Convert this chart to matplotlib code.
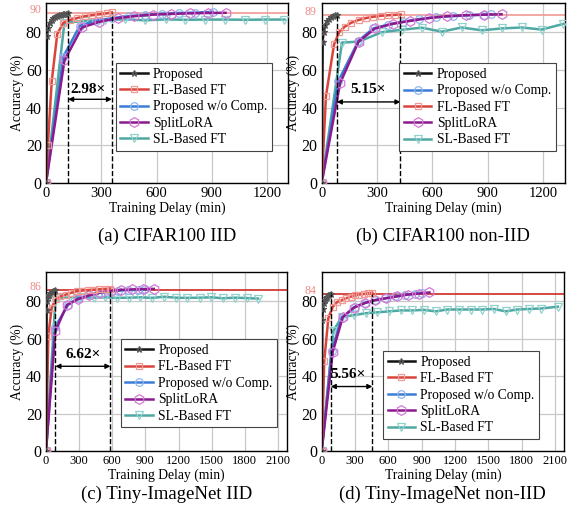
import matplotlib
matplotlib.use("Agg")
import matplotlib.pyplot as plt

plt.rcParams['font.family'] = ['Liberation Serif', 'DejaVu Serif']

# ---------------- data ----------------
# (a) CIFAR100 IID
a_prop_t = [0, 5, 10, 20, 30, 40, 50, 60, 70, 80, 90, 100, 110, 120]
a_prop_y = [0, 78, 82, 85, 86.5, 87.5, 88, 88.5, 89, 89.3, 89.5, 89.7, 89.9, 90.2]
a_fl_t = [0, 10, 31, 61, 94, 130, 170, 210, 250, 290, 330, 358]
a_fl_y = [0, 20, 54, 79, 85, 86.5, 87.5, 88.5, 89, 89.5, 90, 90.5]
a_woc_t = [0, 94, 184, 270, 360, 450, 540, 630, 720, 810, 905]
a_woc_y = [0, 67, 83.5, 86, 87.5, 88.5, 89.3, 89.8, 90.2, 90.4, 90.8]
a_slora_t = [0, 100, 195, 290, 390, 480, 580, 680, 780, 880, 975]
a_slora_y = [0, 65, 82.5, 85.5, 87.5, 88.5, 89.3, 89.7, 90, 90.2, 90.3]
a_sl_t = [0, 100, 210, 320, 430, 540, 650, 755, 865, 970, 1080, 1190, 1295]
a_sl_y = [0, 85, 86, 86.5, 86.8, 86.3, 86.8, 86.6, 86.7, 86.7, 86.6, 86.7, 86.7]

# (b) CIFAR100 non-IID
b_prop_t = [0, 5, 10, 20, 30, 40, 50, 60, 70, 82]
b_prop_y = [0, 75, 80, 84, 86, 87, 88, 88.5, 89, 89.3]
b_fl_t = [0, 23, 67, 96, 126, 160, 200, 240, 280, 320, 360, 395, 428]
b_fl_y = [0, 46, 73.5, 80.3, 83, 85, 86.5, 87.5, 88.2, 88.7, 89, 89.2, 89.4]
b_woc_t = [0, 90, 200, 280, 360, 440, 530, 620, 710, 800, 880, 920]
b_woc_y = [0, 54, 75.5, 82, 84, 85.5, 87, 88, 88.5, 89, 89.3, 89.5]
b_slora_t = [0, 100, 200, 290, 385, 480, 580, 680, 780, 880, 975]
b_slora_y = [0, 53, 75, 82, 84.5, 86, 87.5, 88.5, 89, 89.3, 89.5]
b_sl_t = [0, 110, 202, 325, 435, 542, 651, 759, 868, 976, 1084, 1193, 1310]
b_sl_y = [0, 74.5, 75, 80, 81.3, 82.4, 80.3, 82.5, 81, 82, 82.5, 81.4, 84.4]

# (c) Tiny-ImageNet IID
c_prop_t = [0, 5, 10, 20, 30, 40, 50, 60, 70, 85]
c_prop_y = [0, 75, 80, 82.5, 83.5, 84.3, 84.8, 85.2, 85.5, 86]
c_fl_t = [0, 21, 51, 88, 130, 180, 230, 280, 330, 380, 430, 480, 530, 580]
c_fl_y = [0, 61.5, 76.5, 81, 82.5, 83.5, 84.5, 85.2, 85.6, 85.9, 86.1, 86.3, 86.5, 86.7]
c_woc_t = [0, 81, 200, 290, 380, 470, 560, 650, 740, 830, 900]
c_woc_y = [0, 66, 78, 81.5, 83, 84.3, 85, 85.5, 85.8, 86, 86.2]
c_slora_t = [0, 85, 190, 290, 390, 490, 590, 680, 780, 880, 975]
c_slora_y = [0, 64, 78, 81, 83, 84.5, 85.5, 86, 86.2, 86.4, 86.5]
c_sl_t = [0, 85, 110, 215, 320, 430, 535, 640, 750, 855, 960, 1070, 1175, 1280,
          1390, 1495, 1600, 1710, 1815, 1920]
c_sl_y = [0, 80, 81.5, 82, 82, 81.8, 82, 81.7, 81.8, 82, 81.7, 82.3, 81.8, 81.7,
          81.8, 82, 81.5, 81.8, 81.6, 81.3]

# (d) Tiny-ImageNet non-IID
d_prop_t = [0, 5, 10, 20, 30, 40, 50, 60, 70, 82]
d_prop_y = [0, 70, 76, 79, 80.5, 81.5, 82.3, 83, 83.5, 84]
d_fl_t = [0, 23, 60, 100, 140, 180, 220, 260, 300, 340, 380, 420, 455]
d_fl_y = [0, 48, 71, 77, 79.5, 80.5, 81.5, 82.3, 83, 83.5, 83.8, 84.2, 84.5]
d_woc_t = [0, 90, 180, 300, 390, 480, 570, 660, 750, 840, 905]
d_woc_y = [0, 53.5, 71, 77, 79, 80.5, 81.5, 82.5, 83.3, 84, 84.5]
d_slora_t = [0, 100, 190, 290, 390, 480, 580, 680, 780, 880, 970]
d_slora_y = [0, 53, 71.5, 76.5, 79, 80.5, 81.5, 82.5, 83.5, 84, 84.6]
d_sl_t = [0, 105, 180, 290, 395, 500, 605, 710, 815, 920, 1025, 1130, 1235, 1340,
          1445, 1550, 1655, 1760, 1865, 1970, 2125]
d_sl_y = [0, 64, 71.5, 72.5, 73.5, 74, 74.5, 75, 75, 75.3, 74.5, 75.5, 75.5, 75.5,
          75.5, 75.8, 74.5, 75.5, 75.8, 76, 77]

targets = [90, 89, 86, 84]
speedups = ["2.98×", "5.15×", "6.62×", "5.56×"]
speed_t = [(120, 358), (82, 427), (85, 583), (82, 456)]
titles = ["(a) CIFAR100 IID", "(b) CIFAR100 non-IID",
          "(c) Tiny-ImageNet IID", "(d) Tiny-ImageNet non-IID"]
labels = {"prop": "Proposed", "fl": "FL-Based FT", "woc": "Proposed w/o Comp.",
          "slora": "SplitLoRA", "sl": "SL-Based FT"}

# ---------------- style ----------------
styles = {
    "prop": dict(color="#111111", marker="*", mec="#555555", mfc="none", ms=5),
    "fl": dict(color="#d9453d", marker="s", mec="#f19a95", mfc="none", ms=5),
    "woc": dict(color="#3a7dd6", marker="o", mec="#8fb6ef", mfc="none", ms=5.5),
    "slora": dict(color="#8b1a8e", marker="h", mec="#d47ad6", mfc="none", ms=7),
    "sl": dict(color="#4ea8a3", marker="v", mec="#92d2ce", mfc="none", ms=6),
}

panels = [
    dict(data={"prop": (a_prop_t, a_prop_y), "fl": (a_fl_t, a_fl_y), "woc": (a_woc_t, a_woc_y),
               "slora": (a_slora_t, a_slora_y), "sl": (a_sl_t, a_sl_y)},
         order=["prop", "fl", "woc", "slora", "sl"], xlim=1314, xticks=[0, 300, 600, 900, 1200],
         pos=[0.0803, 0.6447, 0.4223, 0.3495], leg=(0.288, 0.668), txt=(230, 49.7), arr=44.4,
         tcolor="#f09a94", xfs=10.5),
    dict(data={"prop": (b_prop_t, b_prop_y), "fl": (b_fl_t, b_fl_y), "woc": (b_woc_t, b_woc_y),
               "slora": (b_slora_t, b_slora_y), "sl": (b_sl_t, b_sl_y)},
         order=["prop", "woc", "fl", "slora", "sl"], xlim=1319, xticks=[0, 300, 600, 900, 1200],
         pos=[0.5614, 0.6447, 0.4246, 0.3495], leg=(0.319, 0.666), txt=(253, 49.6), arr=43.0,
         tcolor="#f09a94", xfs=10.5),
    dict(data={"prop": (c_prop_t, c_prop_y), "fl": (c_fl_t, c_fl_y), "woc": (c_woc_t, c_woc_y),
               "slora": (c_slora_t, c_slora_y), "sl": (c_sl_t, c_sl_y)},
         order=["prop", "fl", "woc", "slora", "sl"], xlim=2181,
         xticks=[0, 300, 600, 900, 1200, 1500, 1800, 2100],
         pos=[0.0803, 0.1243, 0.4206, 0.3475], leg=(0.31, 0.624), txt=(338, 51.4), arr=45.2,
         tcolor="#cc2a22", xfs=9),
    dict(data={"prop": (d_prop_t, d_prop_y), "fl": (d_fl_t, d_fl_y), "woc": (d_woc_t, d_woc_y),
               "slora": (d_slora_t, d_slora_y), "sl": (d_sl_t, d_sl_y)},
         order=["prop", "fl", "woc", "slora", "sl"], xlim=2181,
         xticks=[0, 300, 600, 900, 1200, 1500, 1800, 2100],
         pos=[0.5614, 0.1243, 0.4229, 0.3475], leg=(0.252, 0.559), txt=(240, 40.8), arr=34.4,
         tcolor="#cc2a22", xfs=9),
]

fig = plt.figure(figsize=(5.73, 5.15), dpi=100)

for i, p in enumerate(panels):
    ax = fig.add_axes(p["pos"])
    ax.set_xlim(0, p["xlim"])
    ax.set_ylim(0, 95.5)
    ax.set_xticks(p["xticks"])
    ax.set_yticks([0, 20, 40, 60, 80])
    ax.grid(True, color="#c8c8c8", lw=0.9)
    ax.set_axisbelow(True)
    ax.tick_params(axis="y", labelsize=11.5, length=0, pad=3)
    ax.tick_params(axis="x", labelsize=p["xfs"], length=0, pad=3)
    for s in ax.spines.values():
        s.set_linewidth(1.0)

    tgt = targets[i]
    ax.axhline(tgt, color=p["tcolor"], lw=1.2, zorder=1)
    ax.text(-0.02, tgt + 1.6, str(tgt), color="#f08a84", fontsize=8.5,
            transform=ax.get_yaxis_transform(), ha="right", va="center")

    handles = {}
    for key in ["sl", "woc", "slora", "fl", "prop"]:
        t, y = p["data"][key]
        st = styles[key]
        ln, = ax.plot(t, y, color=st["color"], lw=1.8, marker=st["marker"], ms=st["ms"],
                      mec=st["mec"], mfc=st["mfc"], mew=0.9, label=labels[key], zorder=3)
        handles[key] = ln

    t1, t2 = speed_t[i]
    ax.plot([t1, t1], [0, tgt], ls="--", color="black", lw=1.0, zorder=4)
    ax.plot([t2, t2], [0, tgt], ls="--", color="black", lw=1.0, zorder=4)
    ax.annotate("", xy=(t1, p["arr"]), xytext=(t2, p["arr"]),
                arrowprops=dict(arrowstyle="<|-|>", color="black", lw=1.0,
                                mutation_scale=7, shrinkA=0, shrinkB=0), zorder=5)
    ax.text(p["txt"][0], p["txt"][1], speedups[i], fontsize=11, fontweight="bold",
            ha="center", va="center", zorder=5)

    leg = ax.legend([handles[k] for k in p["order"]], [labels[k] for k in p["order"]],
                    loc="upper left", bbox_to_anchor=p["leg"], fontsize=9.8,
                    handlelength=2.0, handletextpad=0.4, labelspacing=0.25,
                    borderpad=0.35, fancybox=False, framealpha=1, edgecolor="#444444",
                    borderaxespad=0)
    leg.get_frame().set_linewidth(0.8)

    ax.set_xlabel("Training Delay (min)", fontsize=9.8, labelpad=1)
    ax.set_ylabel("Accuracy (%)", fontsize=9.8, labelpad=1)

    cx = p["pos"][0] + p["pos"][2] / 2
    cy = 1 - (236.7 / 515) if i < 2 else 1 - (494.3 / 515)
    fig.text(cx, cy, titles[i], fontsize=13.5, ha="center", va="center")

fig.savefig("out.png", dpi=100)
